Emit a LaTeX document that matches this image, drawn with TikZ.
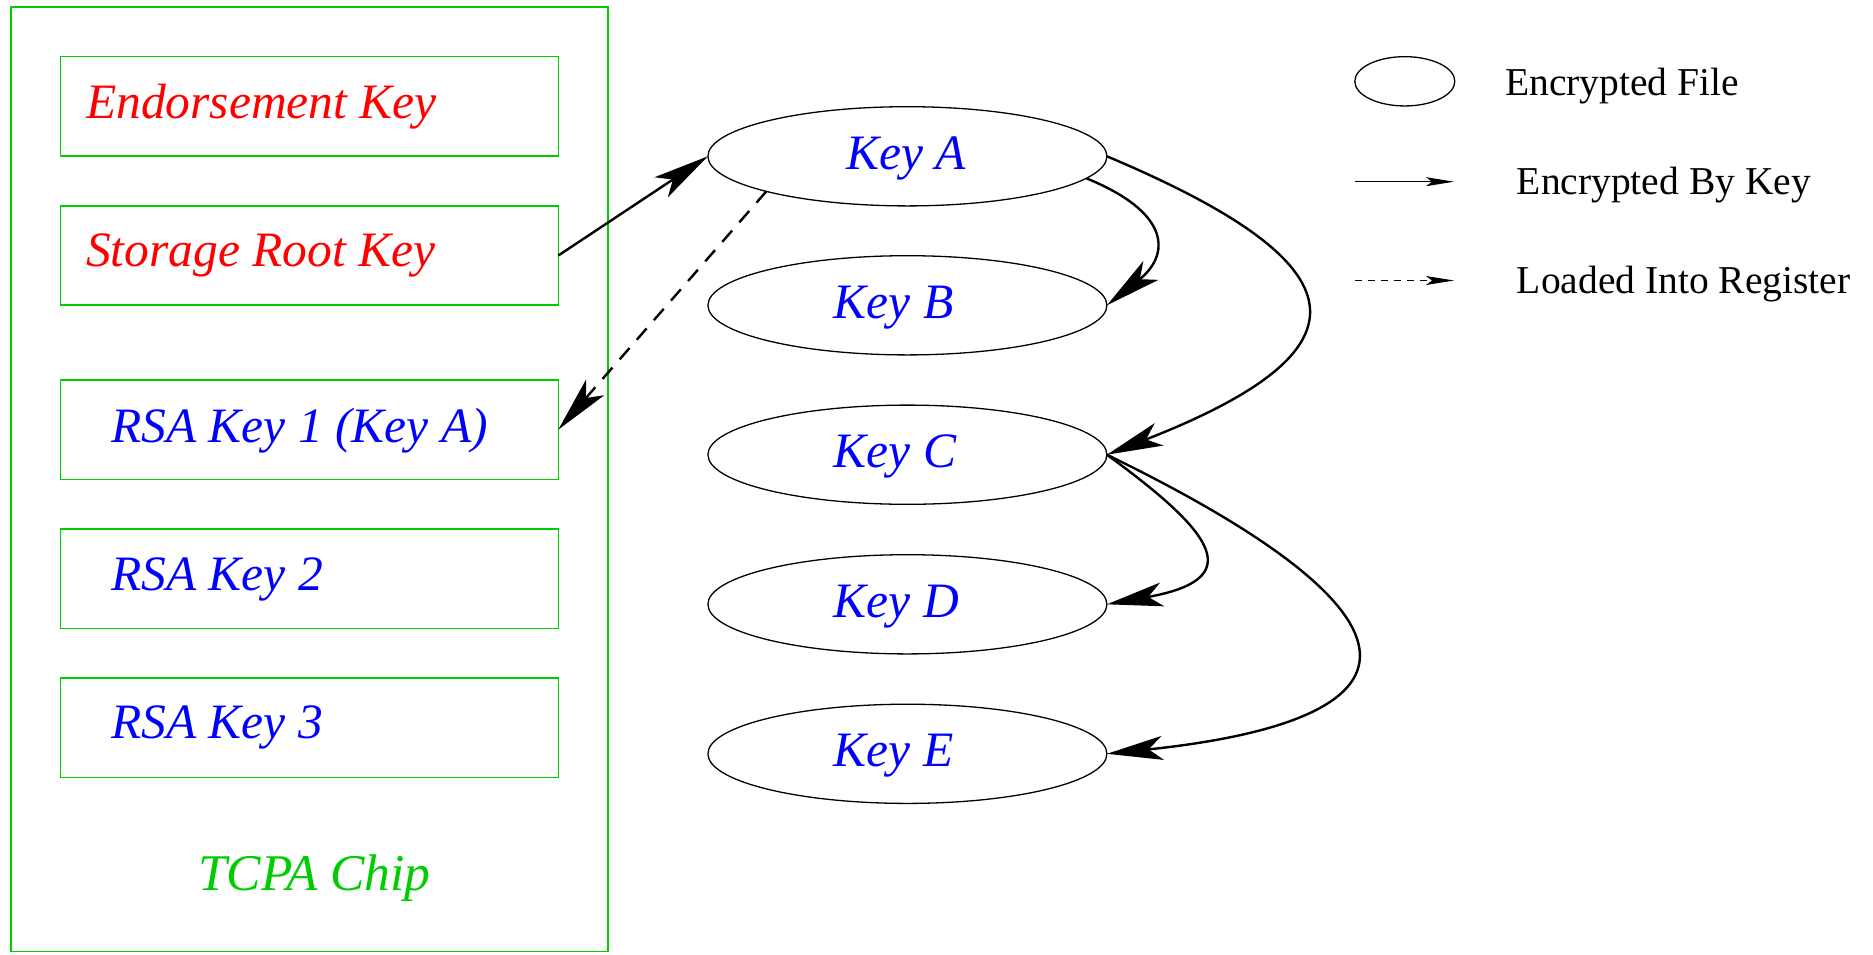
\documentclass[tikz,border=0pt]{standalone}
\usepackage{fontspec}
\setmainfont{Liberation Serif}
\usetikzlibrary{arrows.meta,shapes.geometric}
\definecolor{chipgreen}{RGB}{0,205,0}
\definecolor{keyblue}{RGB}{0,0,255}
\definecolor{keyred}{RGB}{255,0,0}

\tikzset{
  slot/.style={draw=chipgreen, line width=1.5pt, minimum width=497.8pt,
    minimum height=99.3pt, inner sep=0pt, outer sep=0pt},
  keyfile/.style={ellipse, draw, line width=1.3pt, minimum width=399pt,
    minimum height=99.2pt, inner sep=0pt, outer sep=0pt},
  bigtext/.style={font=\fontsize{49.5}{50}\selectfont\itshape,
    anchor=base west, inner sep=0pt},
  legtext/.style={font=\fontsize{39.5}{40}\selectfont,
    anchor=base west, inner sep=0pt},
  enc/.style={line width=2.4pt,
    -{Stealth[length=56pt,width=24pt,inset=14pt]}},
  load/.style={enc, dash pattern=on 15pt off 11pt},
  legenc/.style={line width=1.3pt,
    -{Stealth[length=28pt,width=9pt,inset=6pt]}},
  legload/.style={legenc, dash pattern=on 7pt off 6pt},
}

\begin{document}
\begin{tikzpicture}[x=1pt, y=-1pt]
\useasboundingbox (0,0) rectangle (1873,954);

% the chip and its key slots
\node[draw=chipgreen, line width=1.5pt, minimum width=597pt,
  minimum height=944.5pt, inner sep=0pt, outer sep=0pt] (chip) at (309.5,479.25) {};
\node[slot] (ek)   at (309.4,106.35) {};
\node[slot] (srk)  at (309.4,255.5) {};
\node[slot] (rsa1) at (309.4,429.6) {};
\node[slot] (rsa2) at (309.4,578.6) {};
\node[slot] (rsa3) at (309.4,727.6) {};

\node[bigtext, text=keyred]  (ektext)   at (86,118.3)  {Endorsement Key};
\node[bigtext, text=keyred]  (srktext)  at (86,266.7)  {Storage Root Key};
\node[bigtext, text=keyblue] (rsa1text) at (111,442.3) {RSA Key 1 (Key A)};
\node[bigtext, text=keyblue] (rsa2text) at (111,590.7) {RSA Key 2};
\node[bigtext, text=keyblue] (rsa3text) at (111,738.7) {RSA Key 3};
\node[bigtext, text=chipgreen, font=\fontsize{51.5}{52}\selectfont\itshape]
  (chiptext) at (198,890.5) {TCPA Chip};

% encrypted key files
\node[keyfile] (ka) at (907.4,156.3) {};
\node[keyfile] (kb) at (907.4,305.3) {};
\node[keyfile] (kc) at (907.4,454.7) {};
\node[keyfile] (kd) at (907.4,604.3) {};
\node[keyfile] (ke) at (907.4,753.8) {};

\node[bigtext, text=keyblue] (katext) at (846,169.3)   {Key A};
\node[bigtext, text=keyblue] (kbtext) at (833.5,318.3) {Key B};
\node[bigtext, text=keyblue] (kctext) at (833.5,467.7) {Key C};
\node[bigtext, text=keyblue] (kdtext) at (833.5,617.3) {Key D};
\node[bigtext, text=keyblue] (ketext) at (833.5,766.8) {Key E};

% key hierarchy
\draw[enc]  (srk.east) -- (ka.west);
\draw[load] (ka.south west) -- (rsa1.east);
\draw[enc]  (ka.-7.5) .. controls +(86,35) and +(63,-50) .. (kb.east);
\draw[enc]  (ka.east) .. controls +(259,109) and +(269,-105) .. (kc.east);
\draw[enc]  (kc.east) .. controls +(110,80) and +(140,-25) .. (kd.east);
\draw[enc]  (kc.east) .. controls +(339,165) and +(322,-34) .. (ke.east);

% legend
\node[keyfile, minimum width=100pt, minimum height=49.3pt] (legfile) at (1404.8,81.3) {};
\node[legtext] (legfiletext) at (1505,95.5) {Encrypted File};

\coordinate (encfrom) at (1354.6,181.7);
\coordinate (encto)   at (1454,181.7);
\draw[legenc] (encfrom) -- (encto);
\node[legtext] (legenctext) at (1516.7,194) {Encrypted By Key};

\coordinate (loadfrom) at (1354.6,280.5);
\coordinate (loadto)   at (1454,280.5);
\draw[legload] (loadfrom) -- (loadto);
\node[legtext] (legloadtext) at (1516.7,293) {Loaded Into Register};
\end{tikzpicture}
\end{document}
